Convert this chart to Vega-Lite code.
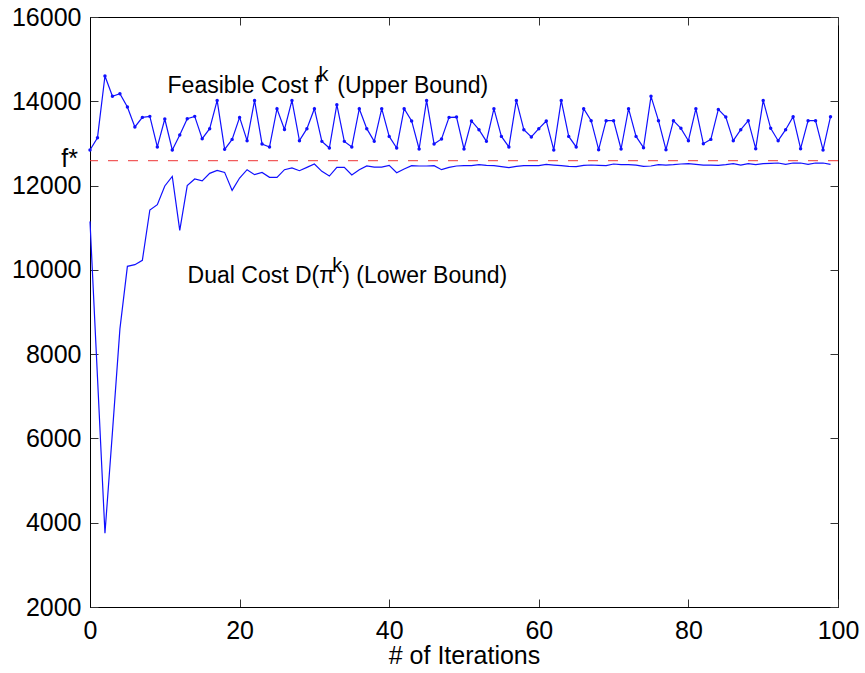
{
  "$schema": "https://vega.github.io/schema/vega-lite/v6.json",
  "width": 748,
  "height": 590,
  "autosize": {"type": "none"},
  "padding": {"left": 90, "top": 17, "right": 27, "bottom": 66},
  "background": "white",
  "config": {
    "view": {"stroke": "black", "strokeWidth": 1},
    "font": "Liberation Sans",
    "axis": {
      "grid": false,
      "domainColor": "black",
      "tickColor": "#333333",
      "tickWidth": 1,
      "labelColor": "black",
      "labelFont": "Liberation Sans",
      "labelFontSize": 25,
      "labelFlush": false,
      "labelOverlap": false,
      "titleFont": "Liberation Sans",
      "titleFontSize": 25,
      "titleFontWeight": "normal",
      "titleColor": "black",
      "tickSize": -8
    }
  },
  "datasets": {
    "upper": [
      {"k":0,"v":12845},{"k":1,"v":13136},{"k":2,"v":14600},{"k":3,"v":14120},{"k":4,"v":14180},
      {"k":5,"v":13865},{"k":6,"v":13390},{"k":7,"v":13618},{"k":8,"v":13642},{"k":9,"v":12916},
      {"k":10,"v":13580},{"k":11,"v":12845},{"k":12,"v":13200},{"k":13,"v":13587},{"k":14,"v":13642},
      {"k":15,"v":13113},{"k":16,"v":13350},{"k":17,"v":14021},{"k":18,"v":12859},{"k":19,"v":13096},
      {"k":20,"v":13618},{"k":21,"v":13065},{"k":22,"v":14021},{"k":23,"v":12987},{"k":24,"v":12916},
      {"k":25,"v":13824},{"k":26,"v":13333},{"k":27,"v":14021},{"k":28,"v":13065},{"k":29,"v":13350},
      {"k":30,"v":13824},{"k":31,"v":13049},{"k":32,"v":12892},{"k":33,"v":13919},{"k":34,"v":13049},
      {"k":35,"v":12916},{"k":36,"v":13824},{"k":37,"v":13350},{"k":38,"v":13049},{"k":39,"v":13824},
      {"k":40,"v":13167},{"k":41,"v":12892},{"k":42,"v":13824},{"k":43,"v":13533},{"k":44,"v":12868},
      {"k":45,"v":14021},{"k":46,"v":12987},{"k":47,"v":13106},{"k":48,"v":13618},{"k":49,"v":13626},
      {"k":50,"v":12868},{"k":51,"v":13533},{"k":52,"v":13326},{"k":53,"v":13049},{"k":54,"v":13824},
      {"k":55,"v":13167},{"k":56,"v":12916},{"k":57,"v":14021},{"k":58,"v":13326},{"k":59,"v":13153},
      {"k":60,"v":13350},{"k":61,"v":13533},{"k":62,"v":12845},{"k":63,"v":14021},{"k":64,"v":13167},
      {"k":65,"v":12916},{"k":66,"v":13824},{"k":67,"v":13540},{"k":68,"v":12852},{"k":69,"v":13540},
      {"k":70,"v":13540},{"k":71,"v":12868},{"k":72,"v":13824},{"k":73,"v":13167},{"k":74,"v":12899},
      {"k":75,"v":14117},{"k":76,"v":13540},{"k":77,"v":12852},{"k":78,"v":13540},{"k":79,"v":13358},
      {"k":80,"v":13065},{"k":81,"v":13824},{"k":82,"v":12994},{"k":83,"v":13096},{"k":84,"v":13808},
      {"k":85,"v":13626},{"k":86,"v":13065},{"k":87,"v":13326},{"k":88,"v":13540},{"k":89,"v":12876},
      {"k":90,"v":14021},{"k":91,"v":13358},{"k":92,"v":13065},{"k":93,"v":13326},{"k":94,"v":13635},
      {"k":95,"v":12876},{"k":96,"v":13540},{"k":97,"v":13540},{"k":98,"v":12845},{"k":99,"v":13635}
    ],
    "lower": [
      {"k":0,"v":11150},{"k":1,"v":7450},{"k":2,"v":3750},{"k":3,"v":6150},{"k":4,"v":8600},
      {"k":5,"v":10083},{"k":6,"v":10123},{"k":7,"v":10226},{"k":8,"v":11420},{"k":9,"v":11547},
      {"k":10,"v":11990},{"k":11,"v":12218},{"k":12,"v":10937},{"k":13,"v":12000},{"k":14,"v":12157},
      {"k":15,"v":12110},{"k":16,"v":12290},{"k":17,"v":12361},{"k":18,"v":12313},{"k":19,"v":11886},
      {"k":20,"v":12180},{"k":21,"v":12377},{"k":22,"v":12259},{"k":23,"v":12313},{"k":24,"v":12195},
      {"k":25,"v":12195},{"k":26,"v":12377},{"k":27,"v":12418},{"k":28,"v":12353},{"k":29,"v":12431},
      {"k":30,"v":12512},{"k":31,"v":12337},{"k":32,"v":12225},{"k":33,"v":12431},{"k":34,"v":12435},
      {"k":35,"v":12250},{"k":36,"v":12377},{"k":37,"v":12465},{"k":38,"v":12440},{"k":39,"v":12440},
      {"k":40,"v":12479},{"k":41,"v":12306},{"k":42,"v":12393},{"k":43,"v":12472},{"k":44,"v":12465},
      {"k":45,"v":12465},{"k":46,"v":12472},{"k":47,"v":12377},{"k":48,"v":12431},{"k":49,"v":12465},
      {"k":50,"v":12472},{"k":51,"v":12472},{"k":52,"v":12496},{"k":53,"v":12479},{"k":54,"v":12472},
      {"k":55,"v":12448},{"k":56,"v":12424},{"k":57,"v":12456},{"k":58,"v":12472},{"k":59,"v":12472},
      {"k":60,"v":12472},{"k":61,"v":12503},{"k":62,"v":12487},{"k":63,"v":12472},{"k":64,"v":12456},
      {"k":65,"v":12448},{"k":66,"v":12480},{"k":67,"v":12488},{"k":68,"v":12479},{"k":69,"v":12472},
      {"k":70,"v":12512},{"k":71,"v":12496},{"k":72,"v":12496},{"k":73,"v":12487},{"k":74,"v":12456},
      {"k":75,"v":12465},{"k":76,"v":12496},{"k":77,"v":12487},{"k":78,"v":12496},{"k":79,"v":12512},
      {"k":80,"v":12520},{"k":81,"v":12503},{"k":82,"v":12487},{"k":83,"v":12487},{"k":84,"v":12479},
      {"k":85,"v":12496},{"k":86,"v":12520},{"k":87,"v":12487},{"k":88,"v":12520},{"k":89,"v":12496},
      {"k":90,"v":12520},{"k":91,"v":12528},{"k":92,"v":12535},{"k":93,"v":12503},{"k":94,"v":12535},
      {"k":95,"v":12535},{"k":96,"v":12503},{"k":97,"v":12535},{"k":98,"v":12535},{"k":99,"v":12503}
    ],
    "fstar": [{"f": 12590, "label": "f*"}],
    "mainText": [
      {"x": 10.37, "y": 14197, "text": "Feasible Cost f"},
      {"x": 33.06, "y": 14197, "text": "(Upper Bound)"},
      {"x": 13.05, "y": 9689, "text": "Dual Cost D(π"},
      {"x": 33.73, "y": 9689, "text": ") (Lower Bound)"}
    ],
    "supText": [
      {"x": 30.55, "y": 14472, "text": "k"},
      {"x": 32.39, "y": 9941, "text": "k"}
    ]
  },
  "layer": [
    {
      "data": {"name": "fstar"},
      "mark": {"type": "rule", "color": "#ee3333", "strokeWidth": 1, "strokeDash": [10, 10]},
      "encoding": {
        "y": {"field": "f", "type": "quantitative", "scale": {"domain": [2000, 16000], "nice": false},
          "axis": {"orient": "left", "values": [2000,4000,6000,8000,10000,12000,14000,16000], "labelPadding": 17, "format": "d", "title": null}}
      }
    },
    {
      "data": {"name": "upper"},
      "mark": {"type": "line", "color": "#1010ff", "strokeWidth": 1.2, "point": {"filled": true, "size": 12, "color": "#1010ff"}},
      "encoding": {
        "x": {"field": "k", "type": "quantitative", "scale": {"domain": [0, 100], "nice": false},
          "axis": {"orient": "bottom", "values": [0,20,40,60,80,100], "labelPadding": 19, "title": "# of Iterations", "titlePadding": 0}},
        "y": {"field": "v", "type": "quantitative",
          "axis": {"orient": "right", "values": [2000,4000,6000,8000,10000,12000,14000,16000], "labels": false, "domain": false, "title": null}}
      }
    },
    {
      "data": {"name": "lower"},
      "mark": {"type": "line", "color": "#1010ff", "strokeWidth": 1.2},
      "encoding": {
        "x": {"field": "k", "type": "quantitative",
          "axis": {"orient": "top", "values": [0,20,40,60,80,100], "labels": false, "domain": false, "title": null}},
        "y": {"field": "v", "type": "quantitative", "axis": null}
      }
    },
    {
      "data": {"name": "fstar"},
      "mark": {"type": "text", "align": "right", "baseline": "alphabetic", "dx": -12, "dy": 6, "fontSize": 25, "font": "Liberation Sans", "color": "black"},
      "encoding": {
        "x": {"datum": 0, "type": "quantitative", "axis": null},
        "y": {"field": "f", "type": "quantitative", "axis": null},
        "text": {"field": "label"}
      }
    },
    {
      "data": {"name": "mainText"},
      "mark": {"type": "text", "align": "left", "baseline": "alphabetic", "fontSize": 23, "font": "Liberation Sans", "color": "black"},
      "encoding": {
        "x": {"field": "x", "type": "quantitative", "axis": null},
        "y": {"field": "y", "type": "quantitative", "axis": null},
        "text": {"field": "text"}
      }
    },
    {
      "data": {"name": "supText"},
      "mark": {"type": "text", "align": "left", "baseline": "alphabetic", "fontSize": 20, "font": "Liberation Sans", "color": "black"},
      "encoding": {
        "x": {"field": "x", "type": "quantitative", "axis": null},
        "y": {"field": "y", "type": "quantitative", "axis": null},
        "text": {"field": "text"}
      }
    }
  ],
  "resolve": {"axis": {"x": "independent", "y": "independent"}}
}
